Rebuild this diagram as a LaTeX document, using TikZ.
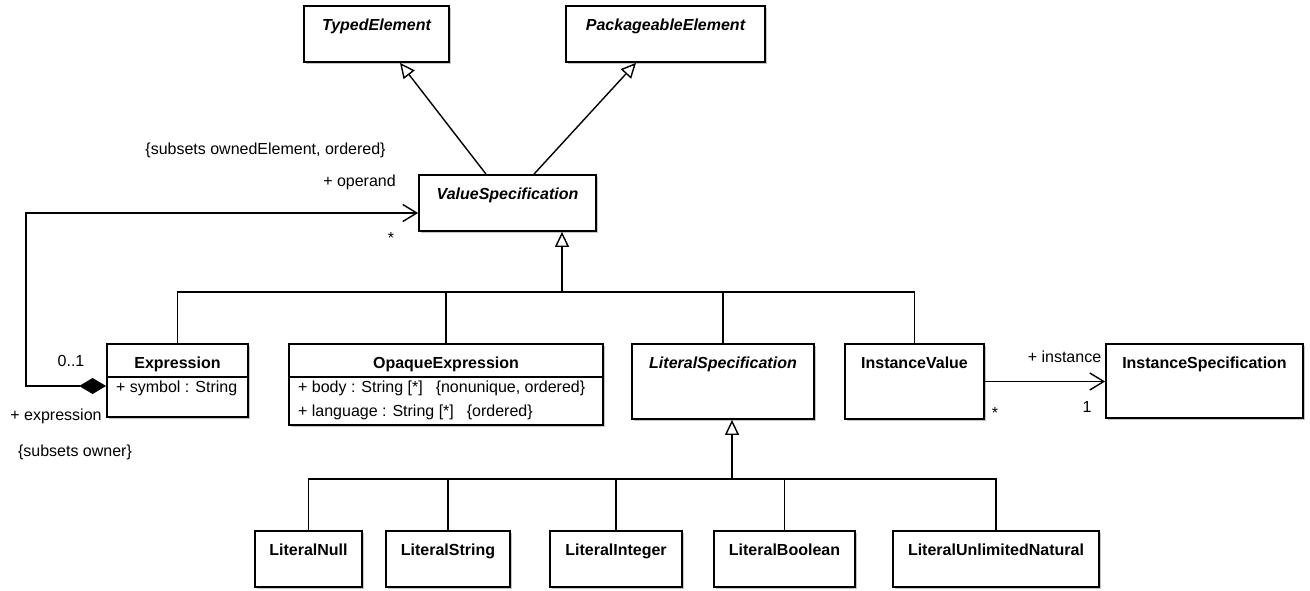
\documentclass[tikz,border=0pt]{standalone}
\usepackage{fontspec}
\setmainfont{Liberation Sans}
\usetikzlibrary{arrows.meta,shadows}

\tikzset{
  umlclass/.style={draw, line width=0.9pt, fill=white, inner xsep=0pt, inner ysep=0pt,
    text height=12pt, font=\fontsize{8pt}{9.6pt}\selectfont\bfseries,
    drop shadow={shadow xshift=1pt, shadow yshift=-1pt, fill=black!45}},
  abstract/.style={umlclass, font=\fontsize{8pt}{9.6pt}\selectfont\bfseries\itshape},
  attr/.style={anchor=west, inner sep=0pt, font=\fontsize{8pt}{9.6pt}\selectfont},
  lbl/.style={inner sep=0pt, font=\fontsize{8pt}{9.6pt}\selectfont},
  conn/.style={line width=0.7pt},
  gen/.style={conn, -{Triangle[open, length=7.5pt, width=7pt]}},
  nav/.style={conn, -{Straight Barb[length=7pt, width=8.5pt]}},
  comp/.style={conn, {Diamond[length=13.5pt, width=8pt]}-{Straight Barb[length=7pt, width=8.5pt]}},
}

\begin{document}
\begin{tikzpicture}[x=0.5pt, y=-0.5pt]
    \useasboundingbox (0,0) rectangle (1310,590);

    % classes
    \node[abstract, minimum width=72.5pt, text depth=16pt] (typed) at (376.5,34) {TypedElement};
    \node[abstract, minimum width=99.5pt, text depth=16pt] (packageable) at (665.5,34) {PackageableElement};
    \node[abstract, minimum width=88.5pt, text depth=16pt] (valuespec) at (507.5,203) {ValueSpecification};

    \node[umlclass, minimum width=70.5pt, text depth=24.5pt] (expression) at (177.5,380.5) {Expression};
    \node[umlclass, minimum width=157pt, text depth=28.5pt] (opaque) at (446,384.5) {OpaqueExpression};
    \node[abstract, minimum width=91pt, text depth=25.5pt] (literalspec) at (723,381.5) {LiteralSpecification};
    \node[umlclass, minimum width=69.5pt, text depth=25.5pt] (instancevalue) at (914.5,381.5) {InstanceValue};
    \node[umlclass, minimum width=98.5pt, text depth=25pt] (instancespec) at (1204.5,381) {InstanceSpecification};

    \node[umlclass, minimum width=53.5pt, text depth=16pt] (literalnull) at (308.5,559) {LiteralNull};
    \node[umlclass, minimum width=62pt, text depth=16pt] (literalstring) at (448,559) {LiteralString};
    \node[umlclass, minimum width=66pt, text depth=16pt] (literalinteger) at (616,559) {LiteralInteger};
    \node[umlclass, minimum width=70.5pt, text depth=16pt] (literalboolean) at (784.5,559) {LiteralBoolean};
    \node[umlclass, minimum width=103pt, text depth=16pt] (literalunlimited) at (996,559) {LiteralUnlimitedNatural};

    % attributes
    \draw[line width=0.9pt] (expression.west |- 0,377) -- (expression.east |- 0,377);
    \node[attr, xshift=4.8pt] (symbolattr) at (expression.west |- 0,388) {+ symbol : String};
    \draw[line width=0.9pt] (opaque.west |- 0,377) -- (opaque.east |- 0,377);
    \node[attr, xshift=4.8pt] (bodyattr) at (opaque.west |- 0,388) {+ body : String [*]\hspace{6.5pt}\{nonunique, ordered\}};
    \node[attr, xshift=4.8pt] (languageattr) at (opaque.west |- 0,412) {+ language : String [*]\hspace{6.5pt}\{ordered\}};

    % generalizations
    \draw[gen] ([xshift=-10.75pt]valuespec.north) -- ([xshift=11.75pt]typed.south);
    \draw[gen] ([xshift=13.25pt]valuespec.north) -- ([xshift=-14.75pt]packageable.south);

    \coordinate (valuebus) at (562,292);
    \draw[gen] (valuebus) -- (valuebus |- valuespec.south);
    \draw[conn] (expression.north) |- (valuebus);
    \draw[conn] (opaque.north) |- (valuebus);
    \draw[conn] (literalspec.north) |- (valuebus);
    \draw[conn] (instancevalue.north) |- (valuebus);

    \coordinate (literalbus) at (732,479);
    \draw[gen] (literalbus) -- (literalbus |- literalspec.south);
    \draw[conn] (literalnull.north) |- (literalbus);
    \draw[conn] (literalstring.north) |- (literalbus);
    \draw[conn] (literalinteger.north) |- (literalbus);
    \draw[conn] (literalboolean.north) |- (literalbus);
    \draw[conn] (literalunlimited.north) |- (literalbus);

    % associations
    \coordinate (operandcorner) at (26,213);
    \draw[comp] ([yshift=-2.75pt]expression.west) -| (operandcorner) -- ([yshift=-5pt]valuespec.west);
    \draw[nav] (instancevalue.east) -- (instancevalue.east -| instancespec.west);

    \node[lbl] (operandconstraint) at (265.5,150) {\{subsets ownedElement, ordered\}};
    \node[lbl] (operandrole) at (359.5,182) {+ operand};
    \node[lbl] (operandmult) at (391,238) {*};
    \node[lbl] (expressionmult) at (71,361) {0..1};
    \node[lbl] (expressionrole) at (56,416) {+ expression};
    \node[lbl] (expressionconstraint) at (75,452) {\{subsets owner\}};
    \node[lbl] (instancerole) at (1064.5,357) {+ instance};
    \node[lbl] (instancevaluemult) at (995,413) {*};
    \node[lbl] (instancemult) at (1087,407) {1};
\end{tikzpicture}
\end{document}
